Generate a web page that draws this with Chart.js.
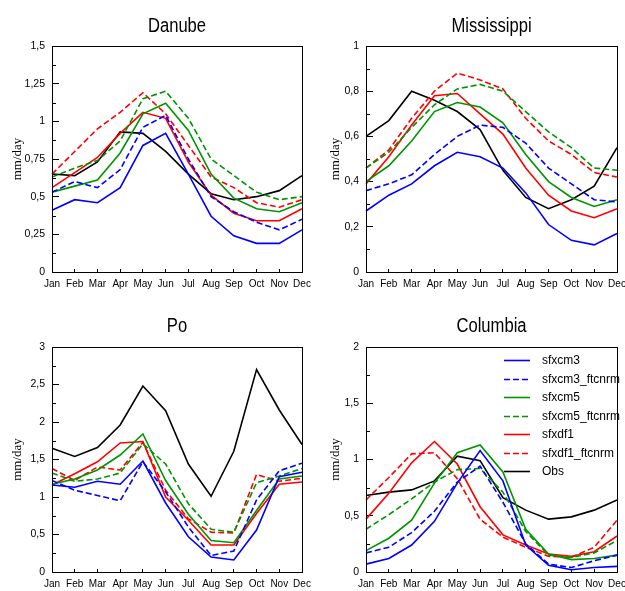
<!DOCTYPE html>
<html>
<head>
<meta charset="utf-8">
<title>River runoff</title>
<script src="https://cdn.jsdelivr.net/npm/chart.js@4.4.1/dist/chart.umd.min.js"></script>
<style>
  body { margin: 0; background: #fff; }
  .panel { position: absolute; }
</style>
</head>
<body>
<div class="panel" style="left:0;top:0;width:312px;height:300px"><canvas id="danube"></canvas></div>
<div class="panel" style="left:312px;top:0;width:313px;height:300px"><canvas id="mississippi"></canvas></div>
<div class="panel" style="left:0;top:300px;width:312px;height:291px"><canvas id="po"></canvas></div>
<div class="panel" style="left:312px;top:300px;width:313px;height:291px"><canvas id="columbia"></canvas></div>
<script>
const months = ['Jan', 'Feb', 'Mar', 'Apr', 'May', 'Jun', 'Jul', 'Aug', 'Sep', 'Oct', 'Nov', 'Dec'];
const runNames = ['sfxcm3', 'sfxcm3_ftcnrm', 'sfxcm5', 'sfxcm5_ftcnrm', 'sfxdf1', 'sfxdf1_ftcnrm', 'Obs'];

// Danube (mm/day)
const danubeCm3   = [0.41, 0.48, 0.46, 0.56, 0.84, 0.92, 0.65, 0.37, 0.24, 0.19, 0.19, 0.28];
const danubeCm3F  = [0.53, 0.60, 0.56, 0.68, 0.96, 1.04, 0.75, 0.50, 0.40, 0.33, 0.28, 0.35];
const danubeCm5   = [0.53, 0.57, 0.61, 0.79, 1.05, 1.12, 0.94, 0.65, 0.49, 0.42, 0.40, 0.46];
const danubeCm5F  = [0.63, 0.69, 0.74, 0.87, 1.15, 1.20, 1.02, 0.75, 0.64, 0.53, 0.48, 0.50];
const danubeDf1   = [0.56, 0.66, 0.76, 0.92, 1.06, 1.02, 0.73, 0.51, 0.39, 0.34, 0.34, 0.42];
const danubeDf1F  = [0.65, 0.80, 0.95, 1.06, 1.19, 1.05, 0.84, 0.63, 0.56, 0.46, 0.43, 0.48];
const danubeObs   = [0.65, 0.64, 0.73, 0.93, 0.92, 0.80, 0.65, 0.52, 0.48, 0.50, 0.54, 0.64];

// Mississippi
const missCm3  = [0.27, 0.34, 0.39, 0.47, 0.53, 0.51, 0.46, 0.35, 0.21, 0.14, 0.12, 0.17];
const missCm3F = [0.36, 0.39, 0.43, 0.52, 0.60, 0.65, 0.64, 0.57, 0.46, 0.39, 0.32, 0.31];
const missCm5  = [0.40, 0.47, 0.58, 0.71, 0.75, 0.73, 0.66, 0.52, 0.40, 0.33, 0.29, 0.32];
const missCm5F = [0.46, 0.53, 0.64, 0.74, 0.81, 0.83, 0.80, 0.71, 0.62, 0.55, 0.46, 0.45];
const missDf1  = [0.39, 0.51, 0.65, 0.78, 0.79, 0.70, 0.61, 0.46, 0.34, 0.27, 0.24, 0.28];
const missDf1F = [0.46, 0.54, 0.68, 0.80, 0.88, 0.85, 0.81, 0.68, 0.58, 0.52, 0.44, 0.42];
const missObs  = [0.60, 0.67, 0.80, 0.76, 0.71, 0.63, 0.45, 0.33, 0.28, 0.32, 0.38, 0.55];

// Po
const poCm3  = [1.16, 1.13, 1.21, 1.17, 1.48, 0.92, 0.47, 0.20, 0.16, 0.56, 1.27, 1.33];
const poCm3F = [1.22, 1.09, 1.02, 0.95, 1.47, 1.07, 0.60, 0.22, 0.28, 0.96, 1.35, 1.45];
const poCm5  = [1.17, 1.24, 1.36, 1.56, 1.84, 1.22, 0.77, 0.42, 0.39, 0.82, 1.24, 1.28];
const poCm5F = [1.32, 1.21, 1.24, 1.32, 1.71, 1.44, 0.91, 0.57, 0.53, 1.19, 1.28, 1.38];
const poDf1  = [1.16, 1.31, 1.47, 1.72, 1.74, 1.00, 0.69, 0.36, 0.36, 0.78, 1.17, 1.20];
const poDf1F = [1.38, 1.22, 1.40, 1.36, 1.73, 1.09, 0.71, 0.53, 0.52, 1.30, 1.21, 1.25];
const poObs  = [1.65, 1.54, 1.66, 1.96, 2.48, 2.15, 1.44, 1.01, 1.61, 2.70, 2.16, 1.70];

// Columbia
const colCm3  = [0.07, 0.12, 0.24, 0.45, 0.79, 1.08, 0.81, 0.24, 0.06, 0.02, 0.04, 0.05];
const colCm3F = [0.17, 0.22, 0.35, 0.54, 0.80, 0.94, 0.62, 0.25, 0.07, 0.04, 0.10, 0.15];
const colCm5  = [0.19, 0.30, 0.46, 0.79, 1.06, 1.13, 0.89, 0.38, 0.16, 0.11, 0.12, 0.15];
const colCm5F = [0.38, 0.51, 0.65, 0.80, 0.91, 0.92, 0.71, 0.36, 0.15, 0.13, 0.17, 0.28];
const colDf1  = [0.47, 0.70, 0.97, 1.16, 0.96, 0.58, 0.33, 0.24, 0.16, 0.14, 0.18, 0.32];
const colDf1F = [0.64, 0.84, 1.05, 1.06, 0.83, 0.47, 0.31, 0.22, 0.14, 0.13, 0.22, 0.46];
const colObs  = [0.68, 0.71, 0.73, 0.81, 1.03, 0.99, 0.66, 0.55, 0.47, 0.49, 0.55, 0.64];

// line style per run, same order as runNames
const runColors = ['#0000ff', '#0000ff', '#009400', '#009400', '#ff0000', '#ff0000', '#000000'];
const runDashes = [[], [6, 3], [], [6, 3], [], [6, 3], []];

const SANS = "'Liberation Sans', Arial, sans-serif";

function fmtTick(v) {
  return String(Math.round(v * 1000) / 1000).replace('.', ',');
}

// box around plot, half-length minor ticks, title over the plot area
const framePlugin = {
  id: 'frame',
  afterDraw(chart, args, opts) {
    const ctx = chart.ctx;
    const a = chart.chartArea;
    const y = chart.scales.y;
    ctx.save();
    ctx.strokeStyle = '#000';
    ctx.lineWidth = 1;
    ctx.strokeRect(Math.round(a.left) + 0.5, Math.round(a.top) + 0.5,
      Math.round(a.right - a.left), Math.round(a.bottom - a.top));
    const ticks = y.ticks;
    ctx.beginPath();
    for (let i = 0; i < ticks.length - 1; i++) {
      const mid = (ticks[i].value + ticks[i + 1].value) / 2;
      const py = Math.round(y.getPixelForValue(mid)) + 0.5;
      ctx.moveTo(a.left, py);
      ctx.lineTo(a.left + 4, py);
    }
    ctx.stroke();
    // condensed title lettering
    ctx.fillStyle = '#000';
    ctx.font = '20px ' + SANS;
    ctx.textAlign = 'center';
    ctx.textBaseline = 'alphabetic';
    ctx.translate((a.left + a.right) / 2, 32);
    ctx.scale(0.83, 1);
    ctx.fillText(opts.text, 0, 0);
    ctx.restore();
  }
};

// legend drawn inside the plot area
const boxLegend = {
  id: 'boxLegend',
  afterDraw(chart, args, opts) {
    if (!opts.show) return;
    const ctx = chart.ctx;
    const a = chart.chartArea;
    ctx.save();
    ctx.font = '12px ' + SANS;
    ctx.textBaseline = 'middle';
    ctx.textAlign = 'left';
    chart.data.datasets.forEach((ds, i) => {
      const yy = Math.round(a.top + 13 + i * 18.5) + 0.5;
      const x0 = a.left + 138;
      ctx.strokeStyle = ds.borderColor;
      ctx.lineWidth = 1.6;
      ctx.setLineDash(ds.borderDash);
      ctx.beginPath();
      ctx.moveTo(x0, yy);
      ctx.lineTo(x0 + 26, yy);
      ctx.stroke();
      ctx.setLineDash([]);
      ctx.fillStyle = '#000';
      ctx.fillText(ds.label, x0 + 38, yy);
    });
    ctx.restore();
  }
};

function makeChart(id, title, series, yMax, yStep, box, showLegend) {
  const datasets = series.map((vals, i) => ({
    label: runNames[i],
    data: vals,
    borderColor: runColors[i],
    borderDash: runDashes[i],
    borderWidth: 1.6,
    pointRadius: 0,
    tension: 0,
    fill: false
  }));

  return new Chart(document.getElementById(id), {
    type: 'line',
    data: { labels: months, datasets: datasets },
    plugins: [framePlugin, boxLegend],
    options: {
      responsive: true,
      maintainAspectRatio: false,
      animation: false,
      layout: { padding: { left: box.padLeft, right: box.padRight, top: box.padTop, bottom: box.padBottom } },
      plugins: {
        legend: { display: false },
        tooltip: { enabled: false },
        frame: { text: title },
        boxLegend: { show: showLegend }
      },
      scales: {
        x: {
          grid: { drawOnChartArea: false, tickLength: -3, color: '#000' },
          border: { color: '#000', width: 1 },
          ticks: { color: '#000', padding: 9, maxRotation: 0, autoSkip: false, font: { family: SANS, size: 10 } },
          afterFit(scale) {
            scale.height = 18;
            scale.paddingLeft = 0;
            scale.paddingRight = 0;
          }
        },
        y: {
          min: 0,
          max: yMax,
          ticks: {
            stepSize: yStep,
            color: '#000',
            padding: 14,
            font: { family: SANS, size: 10.5 },
            callback: fmtTick
          },
          grid: { drawOnChartArea: false, tickLength: -7, color: '#000' },
          border: { color: '#000', width: 1 },
          title: {
            display: true,
            text: 'mm/day',
            color: '#000',
            font: { family: "'Liberation Serif', 'Times New Roman', serif", size: 13 },
            padding: { top: 10, bottom: 0 }
          },
          afterFit(scale) {
            scale.width = box.axisWidth;
            scale.paddingTop = 0;
            scale.paddingBottom = 0;
          }
        }
      }
    }
  });
}

const leftBox = { padLeft: 0, axisWidth: 52, padRight: 10 };
const rightBox = { padLeft: 6, axisWidth: 48, padRight: 8 };

makeChart('danube', 'Danube',
  [danubeCm3, danubeCm3F, danubeCm5, danubeCm5F, danubeDf1, danubeDf1F, danubeObs],
  1.5, 0.25, Object.assign({ padTop: 46, padBottom: 10 }, leftBox), false);

makeChart('mississippi', 'Mississippi',
  [missCm3, missCm3F, missCm5, missCm5F, missDf1, missDf1F, missObs],
  1, 0.2, Object.assign({ padTop: 46, padBottom: 10 }, rightBox), false);

makeChart('po', 'Po',
  [poCm3, poCm3F, poCm5, poCm5F, poDf1, poDf1F, poObs],
  3, 0.5, Object.assign({ padTop: 47, padBottom: 1 }, leftBox), false);

makeChart('columbia', 'Columbia',
  [colCm3, colCm3F, colCm5, colCm5F, colDf1, colDf1F, colObs],
  2, 0.5, Object.assign({ padTop: 47, padBottom: 1 }, rightBox), true);
</script>
</body>
</html>
